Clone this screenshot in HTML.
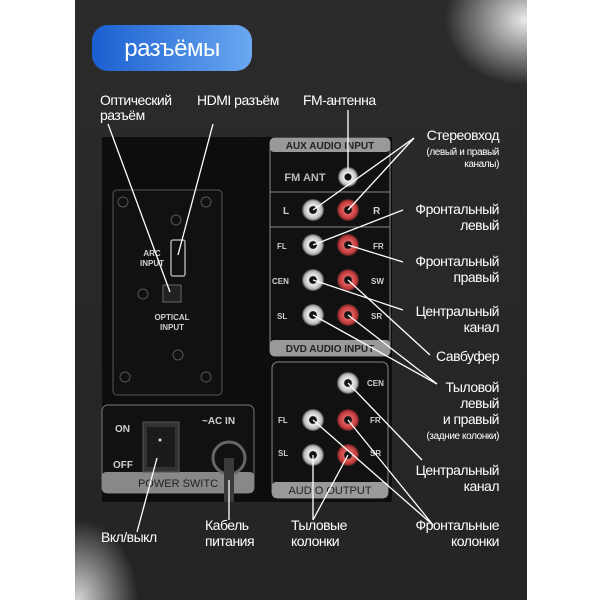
<!DOCTYPE html>
<html><head><meta charset="utf-8"><style>
html,body{margin:0;padding:0;background:#fff;width:600px;height:600px;overflow:hidden}
svg{display:block}
text{font-family:"Liberation Sans","DejaVu Sans",sans-serif;fill:#fff}
.sm{font-size:10px;letter-spacing:-0.4px}
.lb{font-size:14px;letter-spacing:-0.5px}
.pl{font-family:"Liberation Sans",sans-serif;font-weight:bold;fill:#cfcfcf;font-size:8px}
.gl{font-family:"Liberation Sans",sans-serif;font-weight:bold;fill:#222;font-size:10px}
</style></head><body>
<svg width="600" height="600" viewBox="0 0 600 600" xmlns="http://www.w3.org/2000/svg">
<defs>
<linearGradient id="bg" x1="0" y1="0" x2="0" y2="1"><stop offset="0" stop-color="#2b2b2c"/><stop offset="1" stop-color="#242425"/></linearGradient>
<radialGradient id="g1" cx="0.5" cy="0.5" r="0.5"><stop offset="0" stop-color="#ffffff" stop-opacity="1"/><stop offset="1" stop-color="#ffffff" stop-opacity="0"/></radialGradient>
<linearGradient id="pill" x1="0" y1="0" x2="1" y2="0"><stop offset="0" stop-color="#1a5fd0"/><stop offset="1" stop-color="#6aa8f0"/></linearGradient>
<radialGradient id="wj"><stop offset="0" stop-color="#111"/><stop offset="0.3" stop-color="#111"/><stop offset="0.4" stop-color="#eee"/><stop offset="0.8" stop-color="#bbb"/><stop offset="1" stop-color="#444"/></radialGradient>
<radialGradient id="rj"><stop offset="0" stop-color="#111"/><stop offset="0.3" stop-color="#111"/><stop offset="0.4" stop-color="#e06060"/><stop offset="0.8" stop-color="#c03838"/><stop offset="1" stop-color="#442020"/></radialGradient>
</defs>
<rect x="75" y="0" width="452" height="600" fill="url(#bg)"/>
<ellipse cx="525" cy="20" rx="80" ry="65" fill="url(#g1)" opacity="0.9"/>
<ellipse cx="78" cy="600" rx="60" ry="80" fill="url(#g1)" opacity="0.8"/>
<rect x="0" y="0" width="75" height="600" fill="#fff"/>
<rect x="527" y="0" width="73" height="600" fill="#fff"/>
<rect x="92" y="25" width="160" height="46" rx="16" fill="url(#pill)"/>
<text x="172" y="56" text-anchor="middle" style="font-size:24px;letter-spacing:-0.5px">разъёмы</text>

<rect x="102" y="137" width="290" height="365" fill="#0d0d0d"/>
<rect x="113" y="190" width="109" height="205" rx="4" fill="#111" stroke="#555" stroke-width="1"/>
<g fill="none" stroke="#555"><circle cx="123" cy="202" r="5"/><circle cx="206" cy="202" r="5"/><circle cx="176" cy="220" r="5"/><circle cx="143" cy="294" r="5"/><circle cx="178" cy="355" r="5"/><circle cx="125" cy="377" r="5"/><circle cx="206" cy="377" r="5"/></g>
<rect x="171" y="240" width="14" height="36" rx="2" fill="#111" stroke="#aaa" stroke-width="1.5"/>
<rect x="163" y="285" width="18" height="17" fill="#222" stroke="#666"/>
<text class="pl" x="152" y="256" text-anchor="middle">ARC</text><text class="pl" x="152" y="266" text-anchor="middle">INPUT</text>
<text class="pl" x="172" y="320" text-anchor="middle">OPTICAL</text><text class="pl" x="172" y="330" text-anchor="middle">INPUT</text>

<rect x="102" y="405" width="152" height="88" rx="6" fill="#111" stroke="#777"/>
<rect x="102" y="472" width="152" height="21" rx="4" fill="#888"/>
<text class="gl" x="178" y="487" text-anchor="middle" style="font-weight:normal;font-size:11px">POWER SWITC</text>
<text class="pl" x="115" y="432" style="font-size:10px">ON</text><text class="pl" x="113" y="468" style="font-size:10px">OFF</text>
<rect x="143" y="422" width="36" height="50" fill="#333" stroke="#555"/><rect x="147" y="427" width="28" height="40" fill="#1b1b1b"/>
<circle cx="160" cy="440" r="1.5" fill="#ddd"/>
<text class="pl" x="202" y="424" style="font-size:10px">~AC IN</text>
<circle cx="229" cy="458" r="16" fill="#111" stroke="#666" stroke-width="3"/>
<rect x="224" y="458" width="10" height="44" fill="#3a3a3a"/>

<rect x="270" y="138" width="120" height="218" rx="5" fill="#111" stroke="#888"/>
<rect x="270" y="138" width="120" height="14" rx="4" fill="#999"/>
<text class="gl" x="330" y="149" text-anchor="middle">AUX AUDIO INPUT</text>
<line x1="270" y1="192" x2="390" y2="192" stroke="#888"/><line x1="270" y1="227" x2="390" y2="227" stroke="#888"/>
<rect x="270" y="340" width="120" height="16" rx="4" fill="#999"/>
<text class="gl" x="330" y="352" text-anchor="middle">DVD AUDIO INPUT</text>
<text class="pl" x="305" y="181" text-anchor="middle" style="font-size:11px;fill:#bbb">FM ANT</text>
<text class="pl" x="283" y="214" style="font-size:10px">L</text><text class="pl" x="373" y="214" style="font-size:10px">R</text>
<text class="pl" x="277" y="249">FL</text><text class="pl" x="373" y="249">FR</text>
<text class="pl" x="272" y="284">CEN</text><text class="pl" x="371" y="284">SW</text>
<text class="pl" x="277" y="319">SL</text><text class="pl" x="371" y="319">SR</text>

<rect x="272" y="362" width="116" height="136" rx="6" fill="#111" stroke="#888"/>
<rect x="272" y="482" width="116" height="16" rx="4" fill="#999"/>
<text x="330" y="494" text-anchor="middle" style="font-size:11px;fill:#222">AUDIO OUTPUT</text>
<text class="pl" x="367" y="386">CEN</text><text class="pl" x="278" y="423">FL</text><text class="pl" x="370" y="423">FR</text>
<text class="pl" x="278" y="456">SL</text><text class="pl" x="370" y="456">SR</text>

<g>
<circle cx="348" cy="177" r="10" fill="url(#wj)"/>
<circle cx="313" cy="210" r="11" fill="url(#wj)"/><circle cx="348" cy="210" r="11" fill="url(#rj)"/>
<circle cx="313" cy="245" r="11" fill="url(#wj)"/><circle cx="348" cy="245" r="11" fill="url(#rj)"/>
<circle cx="313" cy="280" r="11" fill="url(#wj)"/><circle cx="348" cy="280" r="11" fill="url(#rj)"/>
<circle cx="313" cy="315" r="11" fill="url(#wj)"/><circle cx="348" cy="315" r="11" fill="url(#rj)"/>
<circle cx="348" cy="383" r="11" fill="url(#wj)"/>
<circle cx="313" cy="420" r="11" fill="url(#wj)"/><circle cx="348" cy="420" r="11" fill="url(#rj)"/>
<circle cx="313" cy="455" r="11" fill="url(#wj)"/><circle cx="348" cy="455" r="11" fill="url(#rj)"/>
</g>

<g stroke="#fff" stroke-width="1.3" fill="none">
<line x1="108" y1="124" x2="170" y2="292"/>
<line x1="213" y1="124" x2="178" y2="255"/>
<line x1="348" y1="110" x2="348" y2="170"/>
<line x1="414" y1="138" x2="313" y2="210"/><line x1="414" y1="138" x2="348" y2="210"/>
<line x1="403" y1="210" x2="313" y2="245"/>
<line x1="403" y1="262" x2="348" y2="245"/>
<line x1="403" y1="310" x2="313" y2="280"/>
<line x1="430" y1="355" x2="348" y2="280"/>
<line x1="437" y1="384" x2="313" y2="315"/><line x1="437" y1="384" x2="348" y2="315"/>
<line x1="422" y1="460" x2="348" y2="383"/>
<line x1="433" y1="525" x2="313" y2="420"/><line x1="433" y1="525" x2="348" y2="420"/>
<line x1="313" y1="520" x2="313" y2="455"/><line x1="313" y1="520" x2="348" y2="455"/>
<line x1="137" y1="532" x2="157" y2="458"/>
<line x1="229" y1="520" x2="229" y2="480"/>
</g>

<text class="lb" x="100" y="105">Оптический</text><text class="lb" x="100" y="120">разъём</text>
<text class="lb" x="197" y="105">HDMI разъём</text>
<text class="lb" x="303" y="105">FM-антенна</text>
<g text-anchor="end">
<text class="lb" x="499" y="140">Стереовход</text>
<text class="sm" x="499" y="155">(левый и правый</text><text class="sm" x="499" y="167">каналы)</text>
<text class="lb" x="499" y="214">Фронтальный</text><text class="lb" x="499" y="230">левый</text>
<text class="lb" x="499" y="266">Фронтальный</text><text class="lb" x="499" y="282">правый</text>
<text class="lb" x="499" y="316">Центральный</text><text class="lb" x="499" y="332">канал</text>
<text class="lb" x="499" y="361">Савбуфер</text>
<text class="lb" x="499" y="392">Тыловой</text><text class="lb" x="499" y="408">левый</text><text class="lb" x="499" y="424">и правый</text>
<text class="sm" x="499" y="439">(задние колонки)</text>
<text class="lb" x="499" y="475">Центральный</text><text class="lb" x="499" y="491">канал</text>
<text class="lb" x="499" y="530">Фронтальные</text><text class="lb" x="499" y="546">колонки</text>
</g>
<text class="lb" x="101" y="542">Вкл/выкл</text>
<text class="lb" x="205" y="530">Кабель</text><text class="lb" x="205" y="546">питания</text>
<text class="lb" x="291" y="530">Тыловые</text><text class="lb" x="291" y="546">колонки</text>
</svg>
</body></html>
